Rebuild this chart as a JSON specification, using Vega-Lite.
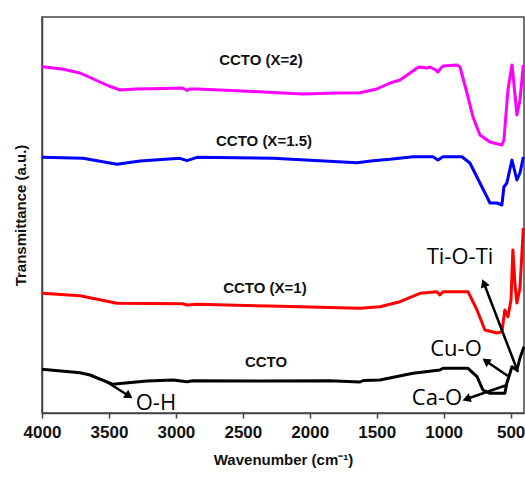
{
  "$schema": "https://vega.github.io/schema/vega-lite/v6.json",
  "width": 482,
  "height": 396,
  "autosize": {"type": "none"},
  "padding": {"left": 42, "top": 17, "right": 1, "bottom": 71},
  "background": "white",
  "config": {
    "view": {"stroke": "#444", "strokeWidth": 1.5},
    "axis": {"grid": false}
  },
  "datasets": {
    "spectra": [
      {"s": "X=2", "w": 4000, "v": 346.3}, {"s": "X=2", "w": 3850, "v": 344}, {"s": "X=2", "w": 3716, "v": 340}, {"s": "X=2", "w": 3600, "v": 333}, {"s": "X=2", "w": 3500, "v": 327}, {"s": "X=2", "w": 3417, "v": 323}, {"s": "X=2", "w": 3300, "v": 324}, {"s": "X=2", "w": 3100, "v": 324.5}, {"s": "X=2", "w": 2950, "v": 325}, {"s": "X=2", "w": 2917, "v": 322.5}, {"s": "X=2", "w": 2900, "v": 324}, {"s": "X=2", "w": 2842, "v": 324}, {"s": "X=2", "w": 2500, "v": 322}, {"s": "X=2", "w": 2051, "v": 319}, {"s": "X=2", "w": 1800, "v": 320}, {"s": "X=2", "w": 1625, "v": 320.3}, {"s": "X=2", "w": 1500, "v": 324}, {"s": "X=2", "w": 1400, "v": 330}, {"s": "X=2", "w": 1326, "v": 333}, {"s": "X=2", "w": 1250, "v": 340}, {"s": "X=2", "w": 1200, "v": 345}, {"s": "X=2", "w": 1177, "v": 346}, {"s": "X=2", "w": 1125, "v": 345}, {"s": "X=2", "w": 1102, "v": 346}, {"s": "X=2", "w": 1060, "v": 343}, {"s": "X=2", "w": 1043, "v": 341}, {"s": "X=2", "w": 1020, "v": 345}, {"s": "X=2", "w": 1005, "v": 347}, {"s": "X=2", "w": 950, "v": 347.5}, {"s": "X=2", "w": 901, "v": 348}, {"s": "X=2", "w": 878, "v": 346}, {"s": "X=2", "w": 826, "v": 320}, {"s": "X=2", "w": 781, "v": 296}, {"s": "X=2", "w": 729, "v": 278}, {"s": "X=2", "w": 654, "v": 271}, {"s": "X=2", "w": 565, "v": 268}, {"s": "X=2", "w": 550, "v": 273}, {"s": "X=2", "w": 520, "v": 323}, {"s": "X=2", "w": 490, "v": 348}, {"s": "X=2", "w": 483, "v": 340}, {"s": "X=2", "w": 453, "v": 298}, {"s": "X=2", "w": 430, "v": 313}, {"s": "X=2", "w": 405, "v": 348},
      {"s": "X=1.5", "w": 4000, "v": 255.7}, {"s": "X=1.5", "w": 3694, "v": 254.7}, {"s": "X=1.5", "w": 3440, "v": 248.7}, {"s": "X=1.5", "w": 3268, "v": 252}, {"s": "X=1.5", "w": 2970, "v": 254.7}, {"s": "X=1.5", "w": 2917, "v": 252.3}, {"s": "X=1.5", "w": 2842, "v": 255.7}, {"s": "X=1.5", "w": 2275, "v": 254.7}, {"s": "X=1.5", "w": 1648, "v": 250.3}, {"s": "X=1.5", "w": 1529, "v": 252.3}, {"s": "X=1.5", "w": 1400, "v": 253.7}, {"s": "X=1.5", "w": 1229, "v": 256.3}, {"s": "X=1.5", "w": 1080, "v": 256.3}, {"s": "X=1.5", "w": 1043, "v": 253}, {"s": "X=1.5", "w": 1005, "v": 256.3}, {"s": "X=1.5", "w": 864, "v": 256.3}, {"s": "X=1.5", "w": 804, "v": 250}, {"s": "X=1.5", "w": 729, "v": 230}, {"s": "X=1.5", "w": 654, "v": 210}, {"s": "X=1.5", "w": 602, "v": 210}, {"s": "X=1.5", "w": 565, "v": 208}, {"s": "X=1.5", "w": 550, "v": 226}, {"s": "X=1.5", "w": 528, "v": 230}, {"s": "X=1.5", "w": 490, "v": 253}, {"s": "X=1.5", "w": 453, "v": 233}, {"s": "X=1.5", "w": 430, "v": 240}, {"s": "X=1.5", "w": 405, "v": 256},
      {"s": "X=1", "w": 4000, "v": 119.7}, {"s": "X=1", "w": 3716, "v": 117.3}, {"s": "X=1", "w": 3440, "v": 109.7}, {"s": "X=1", "w": 2950, "v": 109.3}, {"s": "X=1", "w": 2917, "v": 108}, {"s": "X=1", "w": 2842, "v": 108.7}, {"s": "X=1", "w": 2300, "v": 107}, {"s": "X=1", "w": 1625, "v": 104.7}, {"s": "X=1", "w": 1476, "v": 106.3}, {"s": "X=1", "w": 1326, "v": 111.3}, {"s": "X=1", "w": 1177, "v": 119.7}, {"s": "X=1", "w": 1050, "v": 121.3}, {"s": "X=1", "w": 1028, "v": 118}, {"s": "X=1", "w": 1005, "v": 121.3}, {"s": "X=1", "w": 818, "v": 121.3}, {"s": "X=1", "w": 751, "v": 103}, {"s": "X=1", "w": 692, "v": 83}, {"s": "X=1", "w": 602, "v": 80}, {"s": "X=1", "w": 565, "v": 81.3}, {"s": "X=1", "w": 543, "v": 103}, {"s": "X=1", "w": 520, "v": 96.3}, {"s": "X=1", "w": 497, "v": 113}, {"s": "X=1", "w": 483, "v": 163}, {"s": "X=1", "w": 468, "v": 130}, {"s": "X=1", "w": 453, "v": 110}, {"s": "X=1", "w": 430, "v": 125}, {"s": "X=1", "w": 405, "v": 185},
      {"s": "CCTO", "w": 4000, "v": 43.7}, {"s": "CCTO", "w": 3716, "v": 40.3}, {"s": "CCTO", "w": 3642, "v": 38}, {"s": "CCTO", "w": 3470, "v": 28.7}, {"s": "CCTO", "w": 3396, "v": 29.7}, {"s": "CCTO", "w": 3216, "v": 32}, {"s": "CCTO", "w": 3022, "v": 33}, {"s": "CCTO", "w": 2917, "v": 31.3}, {"s": "CCTO", "w": 2872, "v": 32.3}, {"s": "CCTO", "w": 2350, "v": 32}, {"s": "CCTO", "w": 1850, "v": 32.3}, {"s": "CCTO", "w": 1625, "v": 31}, {"s": "CCTO", "w": 1600, "v": 32.5}, {"s": "CCTO", "w": 1476, "v": 33}, {"s": "CCTO", "w": 1229, "v": 39.7}, {"s": "CCTO", "w": 1028, "v": 43}, {"s": "CCTO", "w": 1005, "v": 44.7}, {"s": "CCTO", "w": 818, "v": 44.7}, {"s": "CCTO", "w": 751, "v": 36.3}, {"s": "CCTO", "w": 707, "v": 23}, {"s": "CCTO", "w": 654, "v": 19.7}, {"s": "CCTO", "w": 543, "v": 19.7}, {"s": "CCTO", "w": 528, "v": 30}, {"s": "CCTO", "w": 513, "v": 36.3}, {"s": "CCTO", "w": 490, "v": 46.3}, {"s": "CCTO", "w": 453, "v": 43}, {"s": "CCTO", "w": 430, "v": 55}, {"s": "CCTO", "w": 400, "v": 66.3}
    ],
    "curveLabels": [
      {"w": 2365, "v": 353, "t": "CCTO (X=2)"},
      {"w": 2342, "v": 272, "t": "CCTO (X=1.5)"},
      {"w": 2335, "v": 125, "t": "CCTO (X=1)"},
      {"w": 2327, "v": 51, "t": "CCTO"}
    ],
    "peaks": [
      {"name": "O-H", "w": 3515, "v": 31, "w2": 3350, "v2": 17, "tw": 3149, "tv": 10},
      {"name": "Ca-O", "w": 527, "v": 28, "w2": 830, "v2": 14, "tw": 1050, "tv": 15},
      {"name": "Cu-O", "w": 520, "v": 37, "w2": 685, "v2": 52, "tw": 908, "tv": 64},
      {"name": "Ti-O-Ti", "w": 445, "v": 41, "w2": 700, "v2": 130, "tw": 878, "tv": 156}
    ]
  },
  "encoding": {
    "x": {
      "field": "w", "type": "quantitative",
      "scale": {"domain": [400, 4000], "reverse": true, "nice": false, "zero": false},
      "axis": {
        "values": [4000, 3500, 3000, 2500, 2000, 1500, 1000, 500],
        "format": "d",
        "title": "Wavenumber (cm⁻¹)",
        "titleFont": "Liberation Sans", "titleFontSize": 15, "titleFontWeight": "bold", "titleColor": "#111",
        "titlePadding": 12,
        "labelFont": "Liberation Sans", "labelFontSize": 17, "labelFontWeight": "bold", "labelColor": "#111",
        "labelPadding": 6, "labelFlush": false,
        "domainColor": "#444", "domainWidth": 1.5,
        "tickColor": "#444", "tickSize": 5, "tickWidth": 1.5
      }
    },
    "y": {
      "field": "v", "type": "quantitative",
      "scale": {"domain": [0, 396], "nice": false, "zero": false},
      "axis": {
        "title": "Transmittance (a.u.)",
        "titleFont": "Liberation Sans", "titleFontSize": 15, "titleFontWeight": "bold", "titleColor": "#111",
        "titlePadding": 14,
        "labels": false, "ticks": false, "domainColor": "#444", "domainWidth": 1.5
      }
    }
  },
  "layer": [
    {
      "data": {"name": "spectra"},
      "mark": {"type": "line", "strokeWidth": 3, "strokeJoin": "round"},
      "encoding": {
        "detail": {"field": "s"},
        "color": {
          "field": "s", "type": "nominal", "legend": null,
          "scale": {"domain": ["X=2", "X=1.5", "X=1", "CCTO"], "range": ["#ff00ff", "#0000ff", "#ff0000", "#000000"]}
        },
        "order": {"field": "w", "sort": "descending"}
      }
    },
    {
      "data": {"name": "curveLabels"},
      "mark": {"type": "text", "font": "Liberation Sans", "fontSize": 15, "fontWeight": "bold", "color": "#111"},
      "encoding": {"text": {"field": "t"}}
    },
    {
      "data": {"name": "peaks"},
      "mark": {"type": "rule", "strokeWidth": 2.5, "color": "#000"},
      "encoding": {"x2": {"field": "w2"}, "y2": {"field": "v2"}}
    },
    {
      "data": {"name": "peaks"},
      "mark": {"type": "text", "font": "Open Sans", "fontSize": 22, "fontWeight": 500, "color": "#000"},
      "encoding": {"x": {"field": "tw", "type": "quantitative"}, "y": {"field": "tv", "type": "quantitative"}, "text": {"field": "name"}}
    },
    {
      "data": {"name": "peaks"},
      "transform": [{"filter": "datum.name === 'O-H'"}],
      "mark": {"type": "point", "shape": "triangle-up", "filled": true, "color": "#000", "opacity": 1, "size": 90, "angle": 123},
      "encoding": {"x": {"field": "w2", "type": "quantitative"}, "y": {"field": "v2", "type": "quantitative"}}
    },
    {
      "data": {"name": "peaks"},
      "transform": [{"filter": "datum.name === 'Ca-O'"}],
      "mark": {"type": "point", "shape": "triangle-up", "filled": true, "color": "#000", "opacity": 1, "size": 90, "angle": 250},
      "encoding": {"x": {"field": "w2", "type": "quantitative"}, "y": {"field": "v2", "type": "quantitative"}}
    },
    {
      "data": {"name": "peaks"},
      "transform": [{"filter": "datum.name === 'Cu-O'"}],
      "mark": {"type": "point", "shape": "triangle-up", "filled": true, "color": "#000", "opacity": 1, "size": 90, "angle": 306},
      "encoding": {"x": {"field": "w2", "type": "quantitative"}, "y": {"field": "v2", "type": "quantitative"}}
    },
    {
      "data": {"name": "peaks"},
      "transform": [{"filter": "datum.name === 'Ti-O-Ti'"}],
      "mark": {"type": "point", "shape": "triangle-up", "filled": true, "color": "#000", "opacity": 1, "size": 90, "angle": 339},
      "encoding": {"x": {"field": "w2", "type": "quantitative"}, "y": {"field": "v2", "type": "quantitative"}}
    }
  ]
}
